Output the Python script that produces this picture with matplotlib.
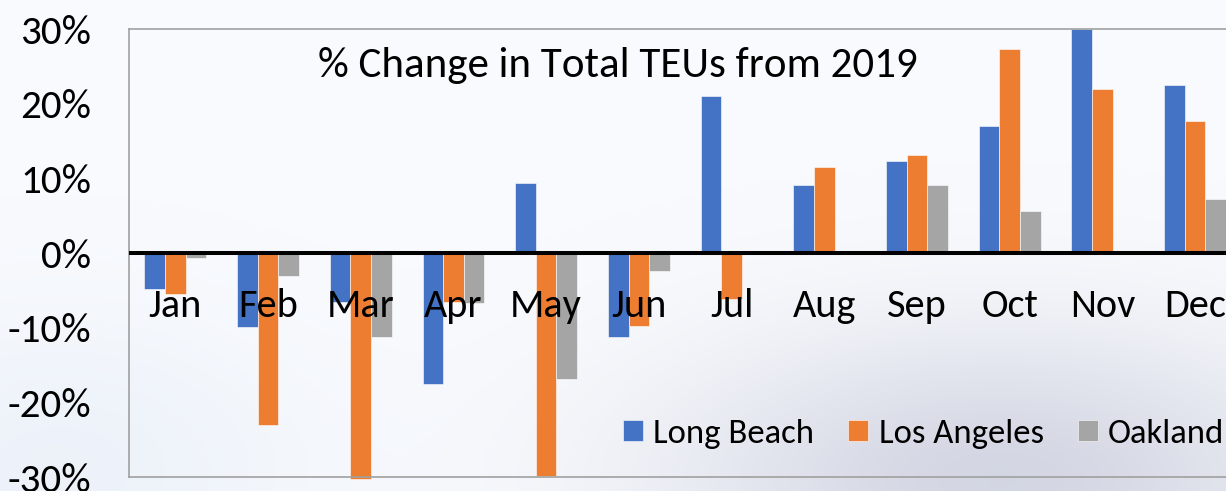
import numpy as np
import matplotlib
matplotlib.use("Agg")
import matplotlib.pyplot as plt

# Data (percent change vs 2019)
months = ["Jan", "Feb", "Mar", "Apr", "May", "Jun",
          "Jul", "Aug", "Sep", "Oct", "Nov", "Dec"]
long_beach = [-4.8, -9.9, -6.6, -17.5, 9.4, -11.2, 21.0, 9.2, 12.4, 17.1, 30.0, 22.6]
los_angeles = [-5.5, -23.0, -30.3, -6.6, -29.9, -9.7, -6.2, 11.6, 13.2, 27.3, 22.0, 17.7]
oakland = [-0.7, -3.1, -11.3, -6.7, -16.9, -2.4, 0.3, 0.3, 9.2, 5.7, 0.0, 7.3]
series_names = ["Long Beach", "Los Angeles", "Oakland"]
y_ticks = [-30, -20, -10, 0, 10, 20, 30]
y_tick_labels = ["-30%", "-20%", "-10%", "0%", "10%", "20%", "30%"]
title = "% Change in Total TEUs from 2019"

colors = ["#4472C4", "#ED7D31", "#A5A5A5"]
plt.rcParams["font.family"] = ["Carlito", "Lato", "DejaVu Sans"]

W, H = 1226, 491
fig = plt.figure(figsize=(W / 100, H / 100), dpi=100)

# slide-like soft background
bg = fig.add_axes([0, 0, 1, 1], zorder=-10)
yy, xx = np.mgrid[0:H, 0:W]
blob = np.exp(-(((xx - 1000) / 330.0) ** 2 + ((yy - 480) / 150.0) ** 2))
blob2 = np.exp(-(((xx - 60) / 250.0) ** 2 + ((yy - 470) / 160.0) ** 2))
base = np.array([0.975, 0.982, 0.995])
dark = np.array([0.83, 0.84, 0.89])
blue = np.array([0.90, 0.93, 0.97])
img = base[None, None, :] * (1 - blob[..., None]) + dark[None, None, :] * blob[..., None]
img = img * (1 - 0.6 * blob2[..., None]) + blue[None, None, :] * 0.6 * blob2[..., None]
bg.imshow(img, aspect="auto", extent=[0, 1, 0, 1])
bg.axis("off")

ax_left = 129 / W
ax_bottom = (H - 477) / H
ax_height = (477 - 29.3) / H
ax_width = 12 * 92.7 / W
ax = fig.add_axes([ax_left, ax_bottom, ax_width, ax_height])
ax.patch.set_alpha(0)

x = np.arange(len(months))
bw = 1 / 4.5
for i, (vals, name) in enumerate(zip([long_beach, los_angeles, oakland], series_names)):
    ax.bar(x + (i - 1) * bw, vals, bw, color=colors[i], label=name,
           edgecolor="white", linewidth=0.4, zorder=2, clip_on=False)

ax.axhline(0, color="black", lw=2.9, zorder=3)

ax.set_xlim(-0.5, 11.5)
ax.set_ylim(-30, 30)
ax.set_yticks(y_ticks)
ax.set_yticklabels(y_tick_labels, fontsize=29.5)
ax.tick_params(axis="y", length=0, pad=27)
ax.set_xticks([])

for s in ["top", "left", "bottom"]:
    ax.spines[s].set_color("#A0A0A0")
    ax.spines[s].set_linewidth(1.2)
ax.spines["right"].set_visible(False)

for i, m in enumerate(months):
    ax.annotate(m, xy=(i, 0), xytext=(0, -45.7), textcoords="offset points",
                ha="center", va="baseline", fontsize=29, zorder=5)

fig.text(617.5 / W, 1 - 77 / H, title, ha="center", va="baseline", fontsize=31)

leg = ax.legend(loc="center left", bbox_to_anchor=(623 / W, 1 - 434 / H),
                bbox_transform=fig.transFigure, ncol=3, frameon=False,
                fontsize=25, handlelength=0.576, handleheight=0.576,
                handletextpad=0.29, columnspacing=0.99, borderpad=0,
                borderaxespad=0)

fig.savefig("out.png", dpi=100)
